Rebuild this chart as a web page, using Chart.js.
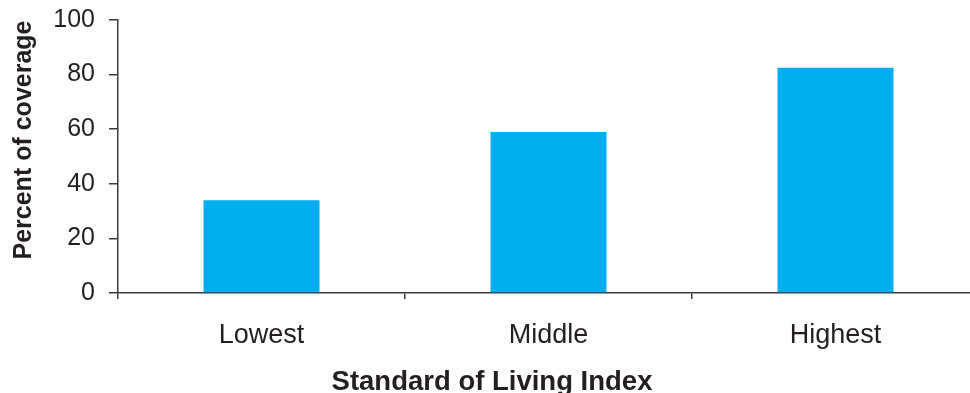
<!DOCTYPE html>
<html>
<head>
<meta charset="utf-8">
<script src="https://cdn.jsdelivr.net/npm/chart.js@4"></script>
<style>
    html, body { margin: 0; padding: 0; background: #fff; overflow: hidden; }
    #wrap { position: relative; width: 990px; height: 393px; }
</style>
</head>
<body>
<div id="wrap"><canvas id="coverageChart"></canvas></div>
<script>
// Coverage by standard of living group
const categories = ['Lowest', 'Middle', 'Highest'];
const coverage = [34, 59, 82.5];
const yTicks = [0, 20, 40, 60, 80, 100];

const axisColor = '#3a3a3a';
const textColor = '#231f20';
const fontFamily = '"Liberation Sans", Arial, Helvetica, sans-serif';

// both axis titles are placed by hand, off-centre from the plot area
const axisTitlesPlugin = {
    id: 'axisTitles',
    afterDraw(chart) {
        const ctx = chart.ctx;
        ctx.save();
        ctx.fillStyle = textColor;
        ctx.textAlign = 'center';
        ctx.textBaseline = 'alphabetic';

        ctx.font = 'bold 27.5px ' + fontFamily;
        ctx.fillText('Standard of Living Index', 492, 390);

        ctx.font = 'bold 25px ' + fontFamily;
        ctx.translate(31, 140);
        ctx.rotate(-Math.PI / 2);
        ctx.fillText('Percent of coverage', 0, 0);
        ctx.restore();
    }
};

document.addEventListener('DOMContentLoaded', function() {
    const ctx = document.getElementById('coverageChart');
    new Chart(ctx, {
        type: 'bar',
        data: {
            labels: categories,
            datasets: [{
                data: coverage,
                backgroundColor: '#00aeef',
                borderWidth: 0,
                categoryPercentage: 1,
                barPercentage: 0.404
            }]
        },
        plugins: [axisTitlesPlugin],
        options: {
            responsive: true,
            maintainAspectRatio: false,
            animation: false,
            layout: { padding: { top: 20, right: 11, left: 0, bottom: 0 } },
            plugins: {
                legend: { display: false },
                tooltip: { enabled: false }
            },
            scales: {
                x: {
                    afterFit: function(scale) { scale.height = 100; },
                    grid: {
                        display: true,
                        offset: true,
                        drawOnChartArea: false,
                        drawTicks: true,
                        tickLength: 6,
                        color: axisColor,
                        lineWidth: 1.5
                    },
                    border: { display: true, color: axisColor, width: 1.5 },
                    ticks: {
                        color: textColor,
                        font: { family: fontFamily, size: 27 },
                        padding: 20,
                        maxRotation: 0
                    }
                },
                y: {
                    min: 0,
                    max: 100,
                    afterFit: function(scale) {
                        scale.width = 118;
                        scale.paddingTop = 0;
                        scale.paddingBottom = 0;
                    },
                    afterBuildTicks: function(scale) {
                        scale.ticks = yTicks.map(v => ({ value: v }));
                    },
                    grid: {
                        display: true,
                        drawOnChartArea: false,
                        drawTicks: true,
                        tickLength: 9,
                        color: axisColor,
                        lineWidth: 1.5
                    },
                    border: { display: true, color: axisColor, width: 1.5 },
                    ticks: {
                        color: textColor,
                        font: { family: fontFamily, size: 25 },
                        padding: 14
                    }
                }
            }
        }
    });
});
</script>
</body>
</html>
